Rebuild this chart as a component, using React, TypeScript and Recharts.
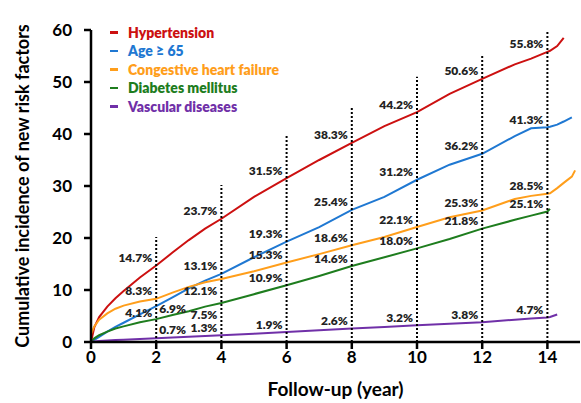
import React from 'react';
import { ComposedChart, Line, XAxis, YAxis, ReferenceLine, ReferenceDot, Legend } from 'recharts';

// Follow-up years at which the curves are sampled
const years = [0, 0.1, 0.25, 0.5, 0.75, 1, 1.5, 2, 2.5, 3, 3.5, 4, 5, 6, 7, 8, 9, 10, 11, 12, 13, 13.5, 14, 14.08, 14.3, 14.5, 14.75, 14.85];

// Cumulative incidence (%) for each risk factor
const hypertension = [0, 2.8, 4.8, 6.8, 8.4, 9.8, 12.4, 14.7, 17.2, 19.6, 21.8, 23.7, 27.9, 31.5, 35.0, 38.3, 41.5, 44.2, 47.7, 50.6, 53.4, 54.5, 55.8, 56.0, 56.9, 58.5, null, null];
const age65 = [0, 0.4, 1.0, 2.0, 2.9, 3.7, 5.3, 6.9, 8.6, 10.3, 11.8, 13.1, 16.3, 19.3, 22.1, 25.4, 27.9, 31.2, 34.1, 36.2, 39.6, 41.1, 41.3, 41.4, 41.8, 42.4, 43.2, null];
const chf = [1.5, 3.0, 4.3, 5.5, 6.4, 7.0, 7.8, 8.3, 9.5, 10.6, 11.5, 12.1, 13.6, 15.3, 16.9, 18.6, 20.2, 22.1, 24.0, 25.3, 27.5, 28.1, 28.5, 28.6, 29.6, 30.6, 31.8, 33.0];
const diabetes = [0, 0.7, 1.3, 2.0, 2.6, 3.0, 3.8, 4.4, 5.2, 5.9, 6.8, 7.5, 9.2, 10.9, 12.7, 14.6, 16.3, 18.0, 19.8, 21.8, 23.5, 24.3, 25.1, 25.6, null, null, null, null];
const vascular = [0, 0.1, 0.2, 0.3, 0.4, 0.45, 0.6, 0.7, 0.85, 1.0, 1.15, 1.3, 1.6, 1.9, 2.25, 2.6, 2.9, 3.2, 3.5, 3.8, 4.3, 4.5, 4.7, 4.8, 5.3, null, null, null];

// Annotated values at the dotted guide years
const guideYears = [2, 4, 6, 8, 10, 12, 14];
const guideTops = [20.2, 30.2, 40, 45.4, 51, 55.4, 59.6];
const hypertensionAt = [14.7, 23.7, 31.5, 38.3, 44.2, 50.6, 55.8];
const age65At = [6.9, 13.1, 19.3, 25.4, 31.2, 36.2, 41.3];
const chfAt = [8.3, 12.1, 15.3, 18.6, 22.1, 25.3, 28.5];
const diabetesAt = [4.1, 7.5, 10.9, 14.6, 18.0, 21.8, 25.1];
const vascularAt = [0.7, 1.3, 1.9, 2.6, 3.2, 3.8, 4.7];

const xTicks = [0, 2, 4, 6, 8, 10, 12, 14];
const yTicks = [0, 10, 20, 30, 40, 50, 60];

const FONT = 'Lato, "Open Sans", sans-serif';

const series = [
  { key: 'hypertension', name: 'Hypertension', color: '#CC1010', values: hypertension, at: hypertensionAt, place: ['left', 'left', 'left', 'left', 'left', 'left', 'left'] },
  { key: 'age65', name: 'Age \u2265 65', color: '#1F78D2', values: age65, at: age65At, place: ['right', 'left', 'left', 'left', 'left', 'left', 'left'] },
  { key: 'chf', name: 'Congestive heart failure', color: '#FF9E1B', values: chf, at: chfAt, place: ['left', 'below', 'left', 'left', 'left', 'left', 'left'] },
  { key: 'diabetes', name: 'Diabetes mellitus', color: '#1E7D1E', values: diabetes, at: diabetesAt, place: ['left', 'below', 'left', 'left', 'left', 'left', 'left'] },
  { key: 'vascular', name: 'Vascular diseases', color: '#7030A8', values: vascular, at: vascularAt, place: ['rightAbove', 'left', 'left', 'left', 'left', 'left', 'left'] },
];

const table = years.map((year, i) => {
  const row: any = { year };
  series.forEach((s) => { row[s.key] = s.values[i]; });
  return row;
});

const PctLabel = (props: any) => {
  const { viewBox, text, place } = props;
  if (!viewBox) return null;
  const cx = viewBox.x + (viewBox.width || 0) / 2;
  const cy = viewBox.y + (viewBox.height || 0) / 2;
  let x = cx - 4;
  let y = cy - 8;
  let anchor = 'end';
  if (place === 'below') { y = cy + 11; }
  if (place === 'right') { x = cx + 3; y = cy + 2; anchor = 'start'; }
  if (place === 'rightAbove') { x = cx + 3; y = cy - 9; anchor = 'start'; }
  return (
    <text x={x} y={y} textAnchor={anchor} dominantBaseline="central" fontFamily={FONT} fontWeight={800} fontSize={12} fill="#222">
      {text}
    </text>
  );
};

const YTitle = (props: any) => {
  const { viewBox } = props;
  if (!viewBox) return null;
  const cx = 22;
  const cy = viewBox.y + viewBox.height / 2;
  return (
    <text x={cx} y={cy} transform={`rotate(-90, ${cx}, ${cy})`} textAnchor="middle" dominantBaseline="central" fontFamily={FONT} fontWeight={700} fontSize={18} fill="#000">
      Cumulative incidence of new risk factors
    </text>
  );
};

const LegendBox = () => (
  <div style={{ fontFamily: FONT, fontWeight: 800, fontSize: 14 }}>
    {series.map((s) => (
      <div key={s.key} style={{ display: 'flex', alignItems: 'center', height: 18.5, color: s.color, whiteSpace: 'nowrap' }}>
        <span style={{ display: 'inline-block', width: 8, height: 2.5, background: s.color, marginRight: 10 }} />
        {s.name}
      </div>
    ))}
  </div>
);

export default function App() {
  return (
    <div style={{ position: 'absolute', left: 0, top: 0, width: 581, height: 403, background: '#fff' }}>
      <ComposedChart width={581} height={403} data={table} margin={{ top: 30, right: 1, left: 0, bottom: 0 }}>
        <XAxis
          dataKey="year"
          type="number"
          domain={[0, 15]}
          ticks={xTicks}
          allowDataOverflow
          height={61}
          tickSize={7}
          tickMargin={2}
          axisLine={{ stroke: '#000', strokeWidth: 2.5 }}
          tickLine={{ stroke: '#000', strokeWidth: 2.5 }}
          tick={{ fill: '#000', fontFamily: FONT, fontWeight: 700, fontSize: 17 }}
          label={{ value: 'Follow-up (year)', position: 'insideBottom', offset: 7, fill: '#000', fontFamily: FONT, fontWeight: 700, fontSize: 19 }}
        />
        <YAxis
          type="number"
          domain={[0, 60]}
          ticks={yTicks}
          width={91}
          tickSize={7}
          tickMargin={12}
          axisLine={{ stroke: '#000', strokeWidth: 2.5 }}
          tickLine={{ stroke: '#000', strokeWidth: 2.5 }}
          tick={{ fill: '#000', fontFamily: FONT, fontWeight: 700, fontSize: 17 }}
          label={<YTitle />}
        />
        <Legend
          layout="vertical"
          align="center"
          verticalAlign="middle"
          content={<LegendBox />}
          wrapperStyle={{ position: 'absolute', left: 110, top: 23, width: 200 }}
        />
        {series.map((s) => (
          <Line
            key={s.key}
            dataKey={s.key}
            name={s.name}
            stroke={s.color}
            strokeWidth={2}
            dot={false}
            activeDot={false}
            type="linear"
            isAnimationActive={false}
            legendType="plainline"
          />
        ))}
        {guideYears.map((g, i) => (
          <ReferenceLine
            key={'g' + g}
            segment={[{ x: g, y: 0 }, { x: g, y: guideTops[i] }]}
            stroke="#000"
            strokeWidth={2}
            strokeDasharray="2 2"
          />
        ))}
        {series.map((s) =>
          s.at.map((v, i) => (
            <ReferenceDot
              key={s.key + i}
              x={guideYears[i]}
              y={v}
              r={0}
              fill="none"
              stroke="none"
              label={<PctLabel text={v.toFixed(1) + '%'} place={s.place[i]} />}
            />
          ))
        )}
      </ComposedChart>
    </div>
  );
}
